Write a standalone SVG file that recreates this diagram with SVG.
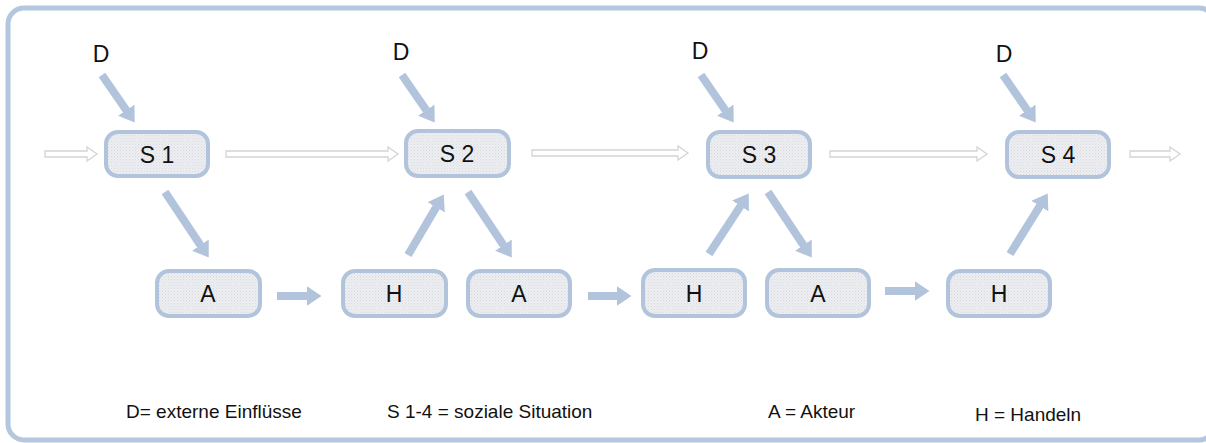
<svg xmlns="http://www.w3.org/2000/svg" width="1206" height="443" viewBox="0 0 1206 443">
<defs>
<pattern id="dots" width="3" height="3" patternUnits="userSpaceOnUse">
<rect width="3" height="3" fill="#eceef1"/>
<rect width="1" height="1" fill="#d6d9de"/>
<rect x="1.5" y="1.5" width="1" height="1" fill="#dcdfe3"/>
</pattern>
<marker id="ah" markerUnits="userSpaceOnUse" markerWidth="15" markerHeight="20" viewBox="0 0 15 20" refX="0.5" refY="10" orient="auto">
<path d="M0,0 L15,10 L0,20 Z" fill="#b1c4dc"/>
</marker>
<style>
.box{fill:url(#dots);stroke:#b1c4dc;stroke-width:4}
.lbl{font-family:"Liberation Sans",Arial,sans-serif;font-size:23px;fill:#111;text-anchor:middle}
.leg{font-family:"Liberation Sans",Arial,sans-serif;font-size:19px;fill:#111}
.arr{stroke:#b1c4dc;stroke-width:8;fill:none;marker-end:url(#ah)}
.hol{fill:#fff;stroke:#d4d4d4;stroke-width:1.3}
</style>
</defs>
<rect x="8" y="8" width="1207" height="432" rx="16" fill="#fff" stroke="#b4c7de" stroke-width="5"/>

<g id="connectors">
<path class="hol" d="M45,151 L87,151 L87,147 L97,154 L87,161 L87,157 L45,157 Z"/>
<path class="hol" d="M226,151 L388,151 L388,147 L398,154 L388,161 L388,157 L226,157 Z"/>
<path class="hol" d="M532,150 L678,150 L678,146 L688,153 L678,160 L678,156 L532,156 Z"/>
<path class="hol" d="M830,151 L977,151 L977,147 L987,154 L977,161 L977,157 L830,157 Z"/>
<path class="hol" d="M1130,151 L1170,151 L1170,147 L1180,154 L1170,161 L1170,157 L1130,157 Z"/>

<line class="arr" x1="102" y1="75" x2="126.5" y2="110.6"/>
<line class="arr" x1="402" y1="75" x2="426.5" y2="110.6"/>
<line class="arr" x1="701" y1="75" x2="725.5" y2="110.6"/>
<line class="arr" x1="1003" y1="75" x2="1027.5" y2="110.6"/>

<line class="arr" x1="165" y1="192" x2="200.7" y2="245.5"/>
<line class="arr" x1="468" y1="192" x2="503.7" y2="245.5"/>
<line class="arr" x1="768" y1="192" x2="803.7" y2="245.5"/>

<line class="arr" x1="408" y1="255" x2="436.4" y2="206.9"/>
<line class="arr" x1="709" y1="254" x2="740.8" y2="205.6"/>
<line class="arr" x1="1010" y1="254" x2="1040.1" y2="205.7"/>

<line class="arr" x1="277" y1="296" x2="307" y2="296"/>
<line class="arr" x1="588" y1="296" x2="617" y2="296"/>
<line class="arr" x1="885" y1="291" x2="915" y2="291"/>
</g>

<g id="D1"><text class="lbl" x="101" y="62">D</text></g>
<g id="D2"><text class="lbl" x="401" y="60">D</text></g>
<g id="D3"><text class="lbl" x="700" y="59">D</text></g>
<g id="D4"><text class="lbl" x="1004" y="62">D</text></g>

<g id="S1"><rect class="box" x="106" y="132" width="102" height="44" rx="12"/><text class="lbl" x="157" y="163">S 1</text></g>
<g id="S2"><rect class="box" x="406" y="131" width="103" height="45" rx="12"/><text class="lbl" x="457" y="162">S 2</text></g>
<g id="S3"><rect class="box" x="708" y="132" width="102" height="45" rx="12"/><text class="lbl" x="759" y="163">S 3</text></g>
<g id="S4"><rect class="box" x="1007" y="132" width="102" height="45" rx="12"/><text class="lbl" x="1058" y="163">S 4</text></g>

<g id="A1"><rect class="box" x="157" y="271" width="103" height="45" rx="12"/><text class="lbl" x="208" y="302">A</text></g>
<g id="H1"><rect class="box" x="343" y="271" width="103" height="45" rx="12"/><text class="lbl" x="394" y="302">H</text></g>
<g id="A2"><rect class="box" x="468" y="271" width="102" height="45" rx="12"/><text class="lbl" x="519" y="302">A</text></g>
<g id="H2"><rect class="box" x="643" y="270" width="102" height="46" rx="12"/><text class="lbl" x="694" y="302">H</text></g>
<g id="A3"><rect class="box" x="767" y="270" width="102" height="46" rx="12"/><text class="lbl" x="818" y="302">A</text></g>
<g id="H3"><rect class="box" x="948" y="271" width="102" height="45" rx="12"/><text class="lbl" x="999" y="302">H</text></g>

<g id="legend">
<text class="leg" x="126" y="418">D= externe Einflüsse</text>
<text class="leg" x="387" y="418">S 1-4 = soziale Situation</text>
<text class="leg" x="768" y="418">A = Akteur</text>
<text class="leg" x="975" y="421">H = Handeln</text>
</g>
</svg>
